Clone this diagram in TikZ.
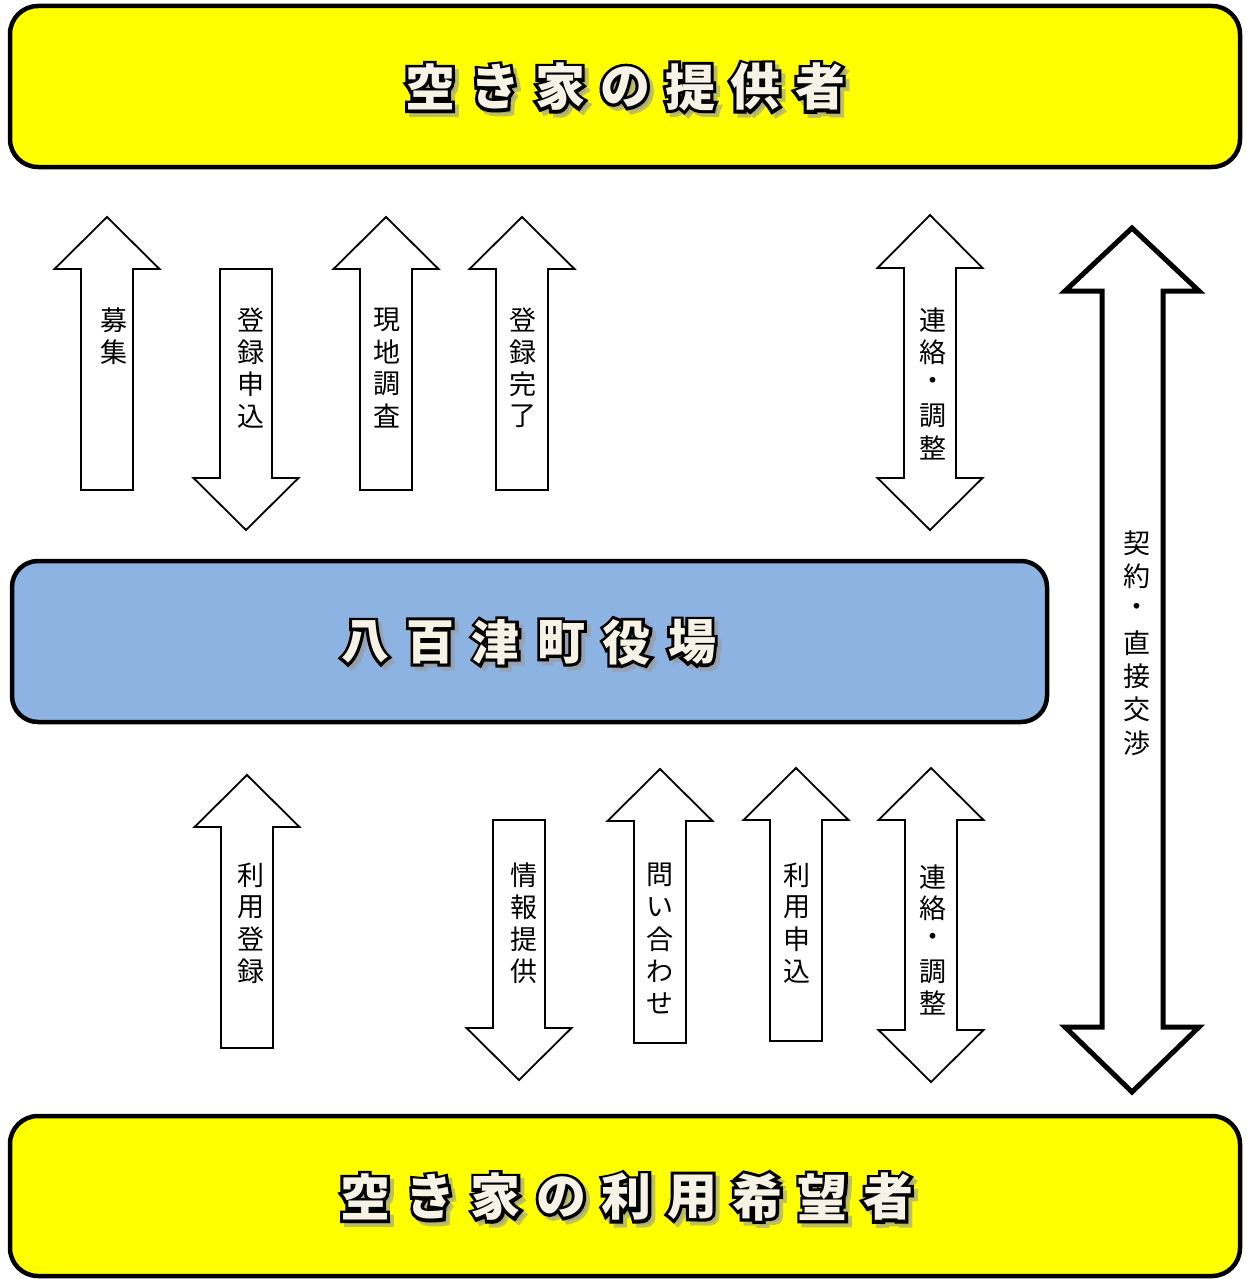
\documentclass[tikz,border=0pt]{standalone}
\usepackage{fontspec}
\setmainfont{Noto Sans CJK JP}
\newfontfamily\ttlfont{Noto Sans CJK JP}
\newfontfamily\ttlout{Noto Sans CJK JP}[BoldFeatures={FakeBold=12}]
\usetikzlibrary{calc}
\definecolor{boxyellow}{HTML}{FFFF00}
\definecolor{boxblue}{HTML}{8DB3E2}
\definecolor{ttlcream}{HTML}{F6F3E6}
\tikzset{
  bigbox/.style={draw=black, line width=4.5pt, rounded corners=28pt},
  blockarrow/.style={draw=black, line width=1.8pt, fill=white, line join=miter},
  thickarrow/.style={draw=black, line width=5pt, fill=white, line join=miter},
  lab/.style={inner sep=0pt, font=\fontsize{27}{27}\selectfont},
  ttlO/.style={inner sep=0pt, text=black, font=\ttlout\bfseries\fontsize{#1}{#1}\selectfont},
  ttlS/.style={inner sep=0pt, text=black!40, opacity=0.6, font=\ttlout\bfseries\fontsize{#1}{#1}\selectfont},
  ttlF/.style={inner sep=0pt, text=ttlcream, font=\ttlfont\bfseries\fontsize{#1}{#1}\selectfont},
}
% title row: #1 name, #2 x0, #3 y, #4 pitch, #5 size, #6 chars
\newcommand\ttlrow[6]{%
  \foreach \c [count=\i from 0] in {#6} {%
    \pgfmathsetmacro\xx{#2+#4*\i}%
    \node[ttlS=#5] (#1s\i) at ($(\xx,#3)+(4,4)$) {\c};%
    \node[ttlO=#5] (#1o\i) at (\xx,#3) {\c};%
    \node[ttlF=#5] (#1-\i) at (\xx,#3) {\c};%
  }}
% vertical label: #1 name, #2 x, #3 y0, #4 pitch, #5 chars
\newcommand\vlab[5]{%
  \foreach \c [count=\i from 0] in {#5} {%
    \node[lab] (#1-\i) at (#2,#3+#4*\i) {\c};%
  }}
% arrows: up {cx}{tip}{base}{bottom}
\newcommand\arrUp[4]{%
  \draw[blockarrow] (#1,#2) -- (#1+52.5,#3) -- (#1+26,#3) -- (#1+26,#4) -- (#1-26,#4) -- (#1-26,#3) -- (#1-52.5,#3) -- cycle;}
% down {cx}{top}{base}{tip}
\newcommand\arrDown[4]{%
  \draw[blockarrow] (#1,#4) -- (#1+52.5,#3) -- (#1+26,#3) -- (#1+26,#2) -- (#1-26,#2) -- (#1-26,#3) -- (#1-52.5,#3) -- cycle;}
% both {cx}{tip1}{base1}{base2}{tip2}
\newcommand\arrBoth[5]{%
  \draw[blockarrow] (#1,#2) -- (#1+52.5,#3) -- (#1+26,#3) -- (#1+26,#4) -- (#1+52.5,#4) -- (#1,#5) -- (#1-52.5,#4) -- (#1-26,#4) -- (#1-26,#3) -- (#1-52.5,#3) -- cycle;}
\begin{document}
\begin{tikzpicture}[x=1pt,y=-1pt]
\useasboundingbox (0,0) rectangle (1245,1279);
\fill[white] (0,0) rectangle (1245,1279);
% boxes
\draw[bigbox, fill=boxyellow] (10,6) rectangle (1240,167);
\draw[bigbox, fill=boxblue, rounded corners=26pt] (12,561) rectangle (1047,722);
\draw[bigbox, fill=boxyellow] (10,1116) rectangle (1240,1276);
% titles
\ttlrow{tp}{430}{87}{65}{50}{空,き,家,の,提,供,者}
\ttlrow{tm}{365}{642}{65.4}{48}{八,百,津,町,役,場}
\ttlrow{tb}{365}{1197}{65.4}{50}{空,き,家,の,利,用,希,望,者}
% upper arrows
\arrUp{107}{217}{269}{490}
\arrDown{246}{269}{478}{530}
\arrUp{386}{217}{269}{490}
\arrUp{522}{217}{269}{490}
\arrBoth{930}{215}{268}{478}{530}
% long thick arrow
\draw[thickarrow] (1132,228) -- (1199,291) -- (1163,291) -- (1163,1027) -- (1199,1027) -- (1132,1092) -- (1065,1027) -- (1102,1027) -- (1102,291) -- (1065,291) -- cycle;
% lower arrows
\arrUp{247}{775}{827}{1048}
\arrDown{519}{820}{1028}{1080}
\arrUp{660}{769}{821}{1043}
\arrUp{796}{768}{820}{1041}
\arrBoth{931}{768}{820}{1030}{1082}
% labels
\vlab{l1}{114}{320}{32}{募,集}
\vlab{l2}{251}{320}{32}{登,録,申,込}
\vlab{l3}{387}{320}{32}{現,地,調,査}
\vlab{l4}{523}{320}{32}{登,録,完,了}
\vlab{l5}{933}{320}{32}{連,絡,・,調,整}
\vlab{l6}{1137}{543}{33.3}{契,約,・,直,接,交,渉}
\vlab{l7}{251}{875}{32}{利,用,登,録}
\vlab{l8}{524}{875}{32}{情,報,提,供}
\vlab{l9}{660}{875}{32}{問,い,合,わ,せ}
\vlab{l10}{797}{875}{32}{利,用,申,込}
\vlab{l11}{933}{877}{31.5}{連,絡,・,調,整}
\end{tikzpicture}
\end{document}
